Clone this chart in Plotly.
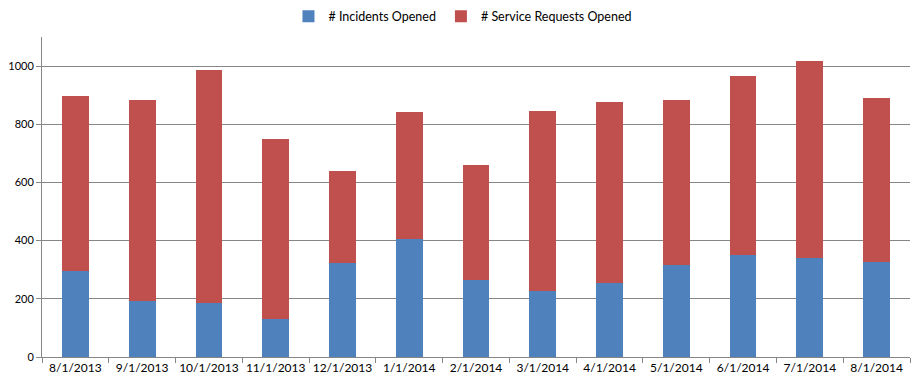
import plotly.graph_objects as go

categories = ["8/1/2013", "9/1/2013", "10/1/2013", "11/1/2013", "12/1/2013", "1/1/2014",
              "2/1/2014", "3/1/2014", "4/1/2014", "5/1/2014", "6/1/2014", "7/1/2014", "8/1/2014"]
incidents = [295, 192, 186, 131, 323, 405, 265, 227, 254, 316, 351, 340, 326]
totals = [897, 883, 986, 749, 639, 842, 660, 845, 876, 883, 966, 1017, 890]
service_requests = [t - i for t, i in zip(totals, incidents)]

fig = go.Figure()
fig.add_trace(go.Bar(x=categories, y=incidents, name="# Incidents Opened",
                     marker=dict(color="#4F81BD", line=dict(width=0))))
fig.add_trace(go.Bar(x=categories, y=service_requests, name="# Service Requests Opened",
                     marker=dict(color="#C0504D", line=dict(width=0))))

fig.update_layout(
    barmode="stack",
    bargap=0.6,
    width=921, height=387,
    margin=dict(l=34, r=19, t=29, b=38, autoexpand=False),
    plot_bgcolor="white", paper_bgcolor="white",
    font=dict(family="Lato, Carlito, Liberation Sans, sans-serif", size=12, color="#000000"),
    legend=dict(orientation="h", x=0.494, xanchor="center", xref="container",
                y=0.978, yanchor="middle", yref="container",
                font=dict(size=12.5), traceorder="normal", itemwidth=30,
                tracegroupgap=0),
    showlegend=True,
)
fig.update_xaxes(type="category", showline=True, linecolor="#868686", linewidth=1,
                 ticks="outside", tickson="boundaries", ticklen=5, tickcolor="#868686",
                 showgrid=False, tickfont=dict(size=12), tickangle=0, automargin=False)
fig.update_yaxes(range=[0, 1100], tickvals=[0, 200, 400, 600, 800, 1000],
                 showline=True, linecolor="#868686", linewidth=1,
                 ticks="outside", ticklen=5, tickcolor="#868686",
                 showgrid=True, gridcolor="#868686", gridwidth=1, zeroline=False,
                 tickfont=dict(size=11), automargin=False)

fig.write_html("out.html")
